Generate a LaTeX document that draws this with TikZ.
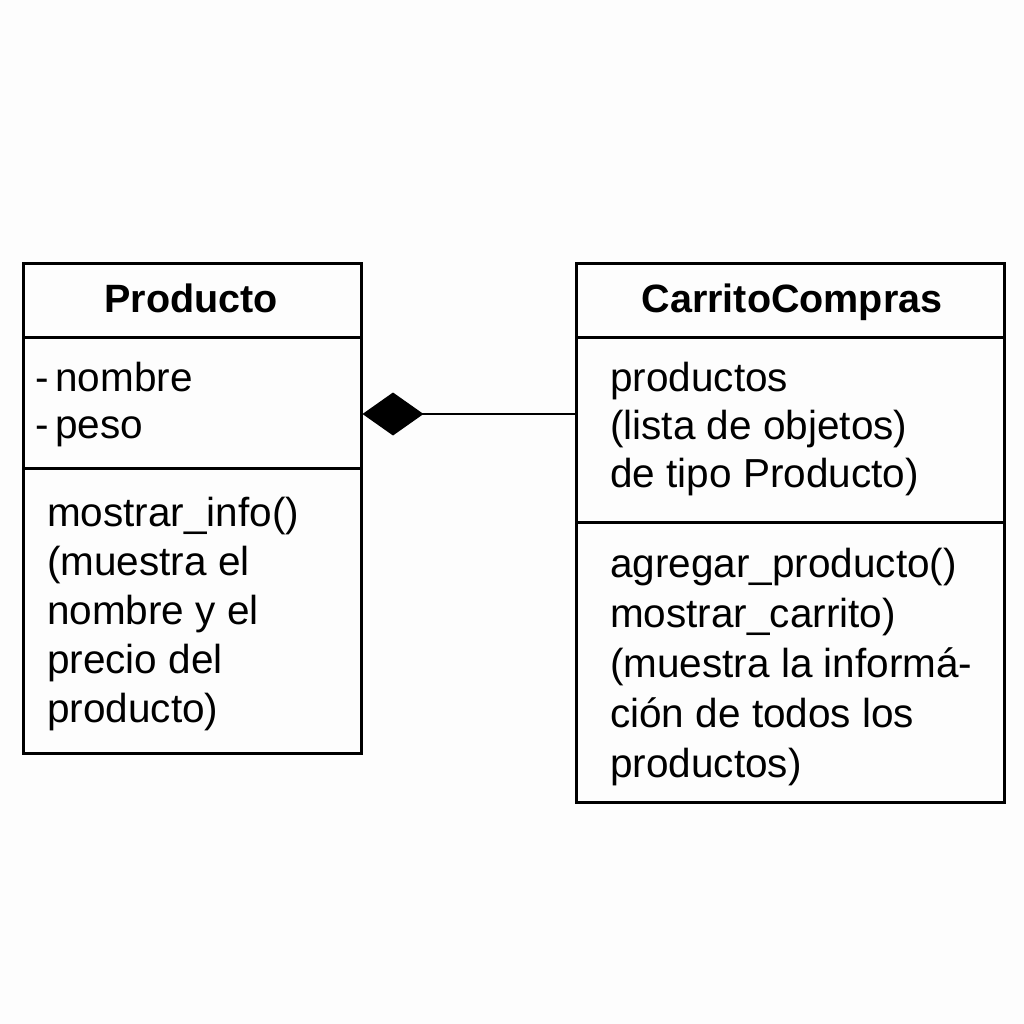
\documentclass[tikz,border=0pt]{standalone}
\usepackage{fontspec}
\setmainfont{Liberation Sans}
\usetikzlibrary{arrows.meta}
\definecolor{bg}{RGB}{253,253,253}
\tikzset{
  part/.style={draw, line width=2.5pt, anchor=north west, inner sep=0pt},
  txt/.style={anchor=base west, inner sep=0pt, font=\fontsize{40.5}{49}\selectfont},
  ttl/.style={anchor=base, inner sep=0pt, font=\fontsize{39.5}{46}\selectfont\bfseries}
}
\begin{document}
\begin{tikzpicture}[x=1pt, y=-1pt]
  \fill[bg] (0,0) rectangle (1024,1024);
  \useasboundingbox (0,0) rectangle (1024,1024);

  % Producto
  \node[part, minimum width=338pt, minimum height=74pt] (prodname) at (22,262) {};
  \node[part, minimum width=338pt, minimum height=131pt] (prodattr) at (22,336) {};
  \node[part, minimum width=338pt, minimum height=285pt] (prodops) at (22,467) {};
  \node[ttl] (prodtitle) at (191,312) {Producto};
  \node[txt] (pa1) at (35,391) {-\,nombre};
  \node[txt] (pa2) at (35,438) {-\,peso};
  \foreach \t [count=\i from 0] in {{mostrar\_info()}, {(muestra el}, {nombre y el}, {precio del}, {producto)}} {
    \node[txt] (po\i) at (47,526+49*\i) {\t};
  }

  % CarritoCompras
  \node[part, minimum width=428pt, minimum height=74pt] (cartname) at (575,262) {};
  \node[part, minimum width=428pt, minimum height=185pt] (cartattr) at (575,336) {};
  \node[part, minimum width=428pt, minimum height=280pt] (cartops) at (575,521) {};
  \node[ttl] (carttitle) at (792,312) {CarritoCompras};
  \foreach \t [count=\i from 0] in {{productos}, {(lista de objetos)}, {de tipo Producto)}} {
    \node[txt] (ca\i) at (610,391+48*\i) {\t};
  }
  \foreach \t [count=\i from 0] in {{agregar\_producto()}, {mostrar\_carrito)}, {(muestra la informá-}, {ción de todos los}, {productos)}} {
    \node[txt] (co\i) at (610,577+50*\i) {\t};
  }

  % composicion
  \coordinate (agg) at (prodattr.east |- 0,414);
  \draw[line width=2.5pt, {Diamond[length=61pt, width=43pt]}-] (agg) -- (cartattr.west |- agg);
\end{tikzpicture}
\end{document}
